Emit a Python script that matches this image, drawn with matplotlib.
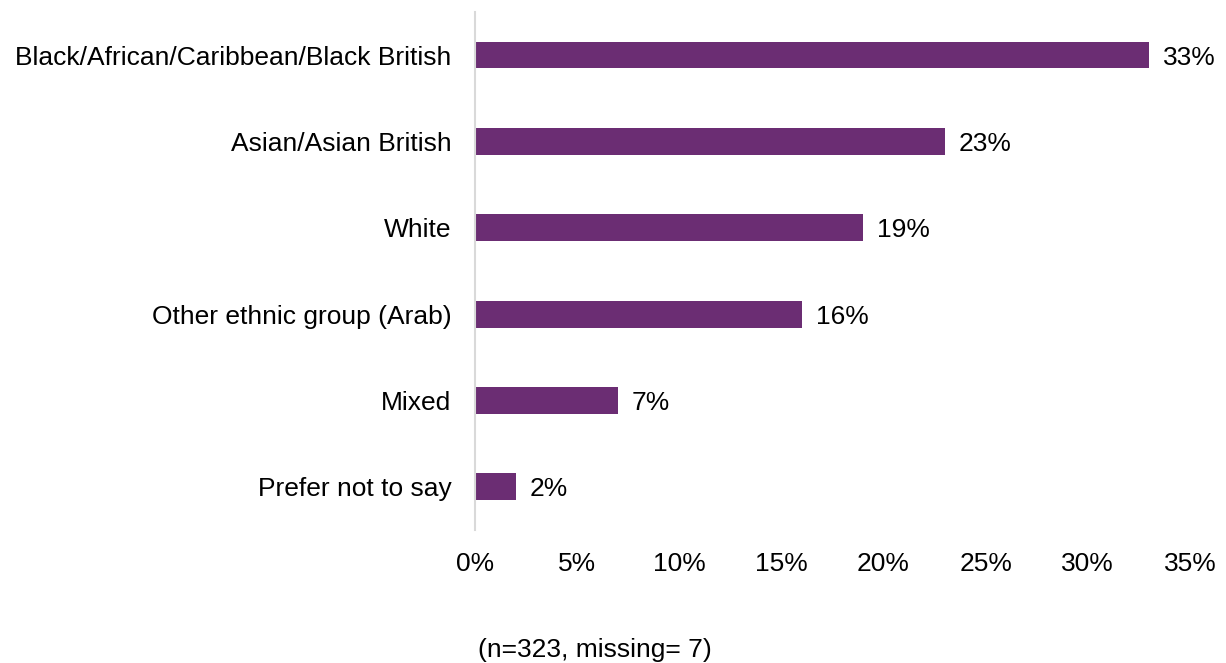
import matplotlib.pyplot as plt
from matplotlib.ticker import FuncFormatter

categories = ['Black/African/Caribbean/Black British', 'Asian/Asian British', 'White',
              'Other ethnic group (Arab)', 'Mixed', 'Prefer not to say']
values = [33, 23, 19, 16, 7, 2]
xticks = [0, 5, 10, 15, 20, 25, 30, 35]
note = '(n=323, missing= 7)'

plt.rcParams['font.family'] = ['Liberation Sans', 'DejaVu Sans']
fs = 19

fig = plt.figure(figsize=(12.26, 6.63), dpi=100)
ax = fig.add_axes([0.3874, 0.2006, 0.5832, 0.7814])

pos = range(len(categories))
ax.barh(pos, values, height=0.31, color='#6B2D73')
for y, v in zip(pos, values):
    ax.annotate(f'{v}%', (v, y), xytext=(10, 0), textcoords='offset points',
                va='center_baseline', ha='left', fontsize=fs)

ax.set_yticks(list(pos))
ax.set_yticklabels(categories, fontsize=fs)
ax.set_ylim(5.5, -0.5)
ax.set_xlim(0, 35)
ax.set_xticks(xticks)
ax.xaxis.set_major_formatter(FuncFormatter(lambda v, p: f'{v:.0f}%'))
ax.tick_params(axis='x', labelsize=fs, length=0, pad=16)
ax.tick_params(axis='y', length=0, pad=17)
for lbl in ax.get_yticklabels():
    lbl.set_verticalalignment('center_baseline')

for s in ['top', 'right', 'bottom']:
    ax.spines[s].set_visible(False)
ax.spines['left'].set_color('#D9D9D9')
ax.spines['left'].set_linewidth(1.5)

fig.text(0.485, 0.02, note, ha='center', va='center', fontsize=fs)

fig.savefig('out.png', dpi=100)
